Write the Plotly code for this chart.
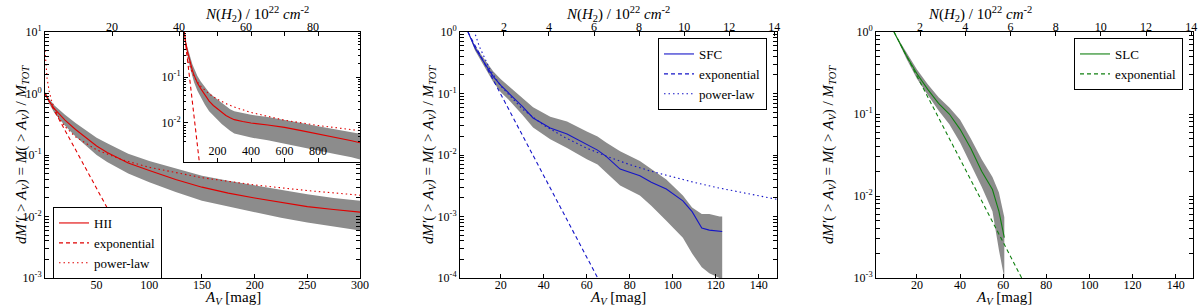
import plotly.graph_objects as go

# ---------------- data ----------------
# Panel 1: HII region
hii_av = [1, 5, 10, 20, 30, 40, 50, 60, 80, 100, 125, 150, 175, 200, 225, 250, 275, 300,
          350, 400, 500, 600, 700, 800, 900, 1000, 1050]
hii_val = [1.0, 0.75, 0.56, 0.37, 0.26, 0.19, 0.14, 0.11, 0.074, 0.056, 0.040, 0.030, 0.024,
           0.020, 0.017, 0.0145, 0.013, 0.0118, 0.0108, 0.0100, 0.0090, 0.0080, 0.0068,
           0.0058, 0.0049, 0.0041, 0.0037]
hii_hi = [1.06, 0.82, 0.64, 0.45, 0.33, 0.25, 0.19, 0.155, 0.105, 0.080, 0.060, 0.046, 0.038,
          0.032, 0.027, 0.023, 0.020, 0.018, 0.0165, 0.0150, 0.0135, 0.0118, 0.0100, 0.0085,
          0.0072, 0.0062, 0.0058]
hii_lo = [0.95, 0.68, 0.48, 0.30, 0.20, 0.14, 0.10, 0.077, 0.050, 0.036, 0.025, 0.018, 0.0145,
          0.0118, 0.0095, 0.0080, 0.0068, 0.0059, 0.0053, 0.0048, 0.0042, 0.0036, 0.0030,
          0.0025, 0.0021, 0.0018, 0.0016]
hii_exp_av = [1, 20, 40, 60, 80, 100]
hii_exp_val = [1.0, 0.252, 0.059, 0.0139, 0.0033, 0.00076]
hii_pl_av = [1, 1.5, 2, 3, 5, 7, 10, 15, 20, 30, 50, 75, 100, 150, 200, 250, 300, 400, 500,
             600, 800, 1000, 1050]
hii_pl_val = [5.0, 3.4, 2.59, 1.76, 1.08, 0.787, 0.561, 0.381, 0.290, 0.197, 0.121, 0.0827,
              0.063, 0.0428, 0.0326, 0.0264, 0.0222, 0.0169, 0.0137, 0.0115, 0.0088, 0.0071,
              0.0068]

# Panel 2: SFC
sfc_av = [4.7, 8, 11.7, 16.4, 20, 24.3, 30, 35, 43, 50.8, 60, 65, 69, 75.5, 84.7, 90, 97,
          104.7, 109, 113.5, 117, 121.8, 123]
sfc_val = [1.0, 0.55, 0.34, 0.19, 0.135, 0.098, 0.062, 0.040, 0.0275, 0.022, 0.015, 0.012,
           0.0095, 0.0059, 0.0046, 0.0036, 0.0028, 0.0018, 0.0012, 0.00065, 0.0006, 0.00058,
           0.00057]
sfc_hi = [1.0, 0.60, 0.39, 0.23, 0.17, 0.125, 0.085, 0.060, 0.042, 0.035, 0.024, 0.020, 0.016,
          0.0115, 0.0080, 0.0060, 0.0040, 0.0022, 0.0014, 0.0011, 0.0011, 0.0010, 0.0010]
sfc_lo = [1.0, 0.50, 0.30, 0.155, 0.105, 0.075, 0.045, 0.028, 0.018, 0.013, 0.0085, 0.0070,
          0.0052, 0.0032, 0.0022, 0.0015, 0.00085, 0.00045, 0.00025, 0.00015, 0.00012,
          0.0001, 0.0001]
sfc_exp_av = [4.7, 20, 35, 50, 66]
sfc_exp_val = [1.0, 0.097, 0.0098, 0.00099, 0.000087]
sfc_pl_av = [7.5, 8, 10, 15, 20, 30, 40, 50, 60, 70, 80, 90, 100, 110, 120, 130, 140, 148.5]
sfc_pl_val = [1.06, 0.93, 0.58, 0.244, 0.132, 0.056, 0.0304, 0.0191, 0.0129, 0.0093, 0.00697,
              0.00544, 0.00437, 0.00358, 0.00298, 0.00252, 0.00215, 0.0019]

# Panel 3: SLC
slc_av = [9.3, 15, 20, 25, 30, 35, 40, 45, 50, 55, 58, 60.5]
slc_val = [1.0, 0.52, 0.31, 0.20, 0.135, 0.10, 0.065, 0.038, 0.020, 0.012, 0.0065, 0.0031]
slc_hi = [1.0, 0.56, 0.35, 0.23, 0.16, 0.12, 0.085, 0.050, 0.028, 0.017, 0.011, 0.0055]
slc_lo = [1.0, 0.48, 0.27, 0.17, 0.11, 0.075, 0.045, 0.024, 0.013, 0.0065, 0.0022, 0.0010]
slc_exp_av = [9.4, 20, 40, 60, 69]
slc_exp_val = [1.0, 0.29, 0.0281, 0.00272, 0.00095]

# tick labels
p1_xticks = [50, 100, 150, 200, 250, 300]
p1_topticks = [20, 40, 60, 80]
inset_xticks = [200, 400, 600, 800]
p23_xticks = [20, 40, 60, 80, 100, 120, 140]
p23_topticks = [2, 4, 6, 8, 10, 12, 14]
p1_top_range = [0, 94]
p2_top_range = [0.05, 14.12]
p3_top_range = [0.05, 14.08]

# ---------------- styling ----------------
FONT = "Liberation Serif"
GRAY = "#8c8c8c"
RED = "#e00000"
BLUE = "#1515c8"
GREEN = "#108010"
DASH = "4px,3px"
DOT = "1.5px,3px"


def band(av, hi, lo, xa, ya):
    return go.Scatter(x=list(av) + list(av)[::-1], y=list(hi) + list(lo)[::-1],
                      fill="toself", fillcolor=GRAY, line=dict(width=0), mode="lines",
                      hoverinfo="skip", showlegend=False, xaxis=xa, yaxis=ya)


def line(av, val, color, dash, name, xa, ya, legend, show=True):
    return go.Scatter(x=av, y=val, mode="lines", name=name,
                      line=dict(color=color, width=1.1, dash=dash),
                      showlegend=show, legend=legend, xaxis=xa, yaxis=ya)


def ghost(rng, xa, ya):
    # invisible trace so the top (N(H2)) axis is drawn
    return go.Scatter(x=rng, y=[0.5, 0.5], mode="markers", marker=dict(opacity=0),
                      hoverinfo="skip", showlegend=False, xaxis=xa, yaxis=ya)


fig = go.Figure()
# panel 1
fig.add_trace(band(hii_av, hii_hi, hii_lo, "x", "y"))
fig.add_trace(line(hii_av, hii_val, RED, "solid", "HII", "x", "y", "legend"))
fig.add_trace(line(hii_exp_av, hii_exp_val, RED, DASH, "exponential", "x", "y", "legend"))
fig.add_trace(line(hii_pl_av, hii_pl_val, RED, DOT, "power-law", "x", "y", "legend"))
fig.add_trace(ghost(p1_top_range, "x2", "y"))
# inset
fig.add_trace(band(hii_av, hii_hi, hii_lo, "x3", "y3"))
fig.add_trace(line(hii_av, hii_val, RED, "solid", "HII", "x3", "y3", "legend", False))
fig.add_trace(line(hii_exp_av, hii_exp_val, RED, DASH, "exp", "x3", "y3", "legend", False))
fig.add_trace(line(hii_pl_av, hii_pl_val, RED, DOT, "pl", "x3", "y3", "legend", False))
# panel 2
fig.add_trace(band(sfc_av, sfc_hi, sfc_lo, "x4", "y4"))
fig.add_trace(line(sfc_av, sfc_val, BLUE, "solid", "SFC", "x4", "y4", "legend2"))
fig.add_trace(line(sfc_exp_av, sfc_exp_val, BLUE, DASH, "exponential", "x4", "y4", "legend2"))
fig.add_trace(line(sfc_pl_av, sfc_pl_val, BLUE, DOT, "power-law", "x4", "y4", "legend2"))
fig.add_trace(ghost(p2_top_range, "x5", "y4"))
# panel 3
fig.add_trace(band(slc_av, slc_hi, slc_lo, "x6", "y6"))
fig.add_trace(line(slc_av, slc_val, GREEN, "solid", "SLC", "x6", "y6", "legend3"))
fig.add_trace(line(slc_exp_av, slc_exp_val, GREEN, DASH, "exponential", "x6", "y6", "legend3"))
fig.add_trace(ghost(p3_top_range, "x7", "y6"))


def minor_log(lo, hi):
    vals = []
    for e in range(lo, hi):
        for m in range(2, 10):
            vals.append(m * 10 ** e)
    return vals


def logtext(exps):
    return [f"10<sup>{e}</sup>" for e in exps]


TF = dict(family=FONT, size=12, color="black")
base_ax = dict(showline=True, linecolor="black", linewidth=1, ticks="inside", ticklen=4,
               tickcolor="black", showgrid=False, zeroline=False, tickfont=TF,
               automargin=False)
top_ax = dict(base_ax, side="top", tickmode="array", ticklabelstandoff=-5)
bot_ax = dict(base_ax, tickmode="array", ticklabelstandoff=-4)


def yaxis(dom, rng, exps, anchor, mirror="allticks"):
    return dict(base_ax, type="log", domain=dom, range=rng, anchor=anchor, mirror=mirror,
                tickmode="array", tickvals=[10 ** e for e in exps], ticktext=logtext(exps),
                minor=dict(tickvals=minor_log(min(exps) - 1, max(exps) + 1), ticks="inside",
                           ticklen=2, tickcolor="black"))


P1X = [45 / 1200, 360 / 1200]
P2X = [460 / 1200, 777 / 1200]
P3X = [876 / 1200, 1193 / 1200]
PY = [1 - 278 / 308, 1 - 32 / 308]
INX = [184 / 1200, 360 / 1200]
INY = [1 - 162 / 308, 1 - 32 / 308]

fig.update_layout(
    template="none",
    width=1200, height=308, margin=dict(l=0, r=0, t=0, b=0, pad=0),
    paper_bgcolor="white", plot_bgcolor="white",
    font=dict(family=FONT, size=12, color="black"),
    # panel 1
    xaxis=dict(bot_ax, domain=P1X, range=[1, 300], anchor="y", tickvals=p1_xticks),
    xaxis2=dict(top_ax, domain=P1X, range=p1_top_range, anchor="y", overlaying="x",
                tickvals=p1_topticks),
    yaxis=yaxis(PY, [-3, 1], [-3, -2, -1, 0, 1], "x"),
    # inset
    xaxis3=dict(base_ax, domain=INX, range=[0, 1050], anchor="y3", mirror="ticks",
                tickmode="array", tickvals=inset_xticks, ticklabelposition="inside"),
    yaxis3=yaxis(INY, [-2.85, -0.02], [-2, -1], "x3"),
    # panel 2
    xaxis4=dict(bot_ax, domain=P2X, range=[1, 148.5], anchor="y4", tickvals=p23_xticks),
    xaxis5=dict(top_ax, domain=P2X, range=p2_top_range, anchor="y4", overlaying="x4",
                tickvals=p23_topticks),
    yaxis4=yaxis(PY, [-4, 0], [-4, -3, -2, -1, 0], "x4"),
    # panel 3
    xaxis6=dict(bot_ax, domain=P3X, range=[1, 148], anchor="y6", tickvals=p23_xticks),
    xaxis7=dict(top_ax, domain=P3X, range=p3_top_range, anchor="y6", overlaying="x6",
                tickvals=p23_topticks),
    yaxis6=yaxis(PY, [-3, 0], [-3, -2, -1, 0], "x6"),
)

LEG = dict(bgcolor="white", bordercolor="black", borderwidth=1,
           font=dict(family=FONT, size=13, color="black"), xanchor="left", yanchor="top",
           tracegroupgap=0, itemwidth=30)
fig.update_layout(
    legend=dict(LEG, x=53 / 1200, y=1 - 207 / 308),
    legend2=dict(LEG, x=658 / 1200, y=1 - 38 / 308),
    legend3=dict(LEG, x=1074 / 1200, y=1 - 38 / 308),
)

# axis titles as annotations
ytitle = ("<i>dM′</i>( > <i>A<sub>V</sub></i>) = <i>M</i>( > <i>A<sub>V</sub></i>) / "
          "<i>M<sub>TOT</sub></i>")
xtitle = "<i>A<sub>V</sub></i> [mag]"
ttitle = "<i>N</i>(<i>H</i><sub>2</sub>) / 10<sup>22</sup> <i>cm</i><sup>-2</sup>"
TITLEF = dict(family=FONT, size=15, color="black")
for xc, yx in [(203, 11), (618, 429), (1034, 840)]:
    fig.add_annotation(x=xc / 1200, y=1 - 309 / 308, xref="paper", yref="paper",
                       text=xtitle, showarrow=False, font=TITLEF)
    fig.add_annotation(x=xc / 1200, y=1 - 2 / 308, xref="paper", yref="paper",
                       text=ttitle, showarrow=False, font=TITLEF)
    fig.add_annotation(x=yx / 1200, y=1 - 155 / 308, xref="paper", yref="paper",
                       text=ytitle, showarrow=False, font=TITLEF, textangle=-90)

fig.write_html("out.html", config={"displayModeBar": False},
               post_script="document.body.style.margin='0';document.body.style.padding='0';")
